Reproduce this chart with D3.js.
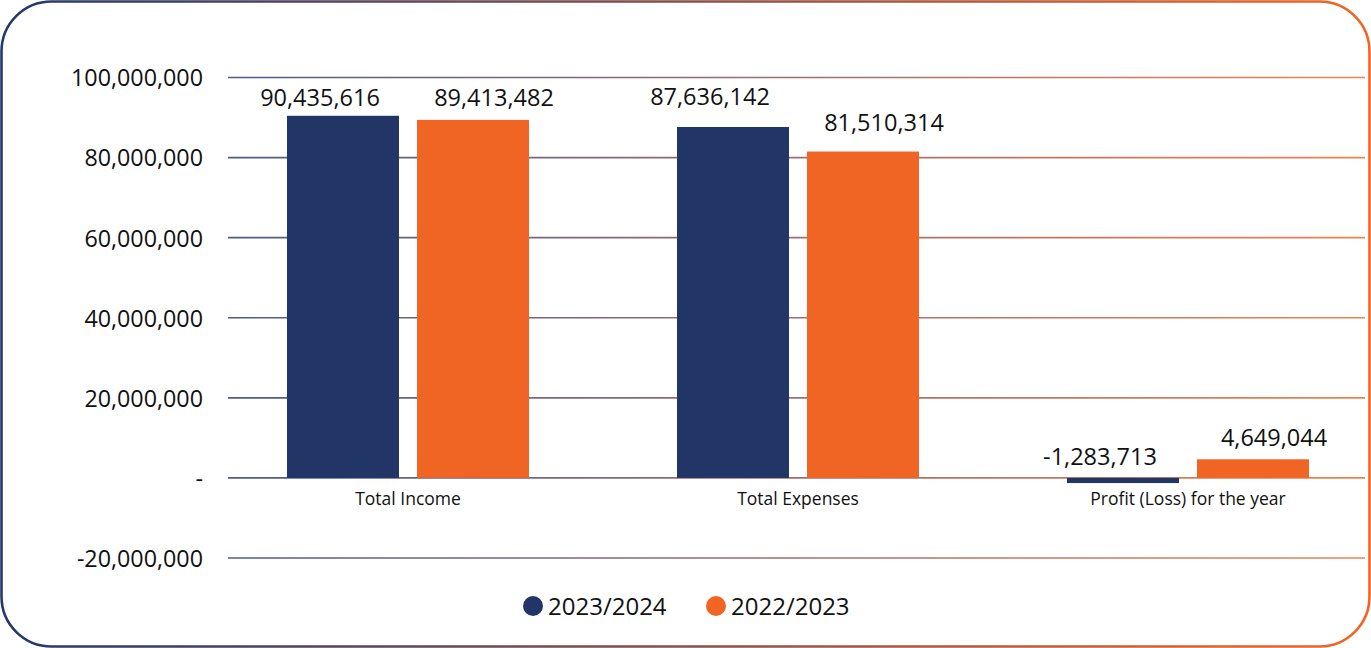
<!DOCTYPE html>
<html>
<head>
<meta charset="utf-8">
<script src="https://cdn.jsdelivr.net/npm/d3@7"></script>
<style>
  html, body { margin: 0; padding: 0; background: #ffffff; }
  svg { display: block; }
  text { font-family: "Open Sans", "Noto Sans", sans-serif; fill: #111; }
</style>
</head>
<body>
<svg id="chart" width="1371" height="648"></svg>
<script>
// Financial summary: income, expenses and result for two financial years
const categories = ["Total Income", "Total Expenses", "Profit (Loss) for the year"];
const seriesNames = ["2023/2024", "2022/2023"];
const values2324 = [90435616, 87636142, -1283713];
const values2223 = [89413482, 81510314, 4649044];
const tickValues = [-20000000, 0, 20000000, 40000000, 60000000, 80000000, 100000000];
const tickLabels = ["-20,000,000", "-", "20,000,000", "40,000,000", "60,000,000", "80,000,000", "100,000,000"];

// label placement: how far each value label sits above its bar (px), per series
const labelLift2324 = [10, 22, 13];
const labelLift2223 = [14, 21, 13];
const labelShift = { "2023/2024": -23, "2022/2023": 21 };

const colors = { "2023/2024": "#213566", "2022/2023": "#f06424" };
const W = 1371, H = 648;

const svg = d3.select("#chart");
const defs = svg.append("defs");

// frame gradient: navy on the left fading to orange on the right
const frameGrad = defs.append("linearGradient")
  .attr("id", "frameGrad").attr("gradientUnits", "userSpaceOnUse")
  .attr("x1", 0).attr("y1", 0).attr("x2", W).attr("y2", 0);
frameGrad.append("stop").attr("offset", "0%").attr("stop-color", "#22386e");
frameGrad.append("stop").attr("offset", "100%").attr("stop-color", "#f26522");

const gridGrad = defs.append("linearGradient")
  .attr("id", "gridGrad").attr("gradientUnits", "userSpaceOnUse")
  .attr("x1", 228).attr("y1", 0).attr("x2", 1365).attr("y2", 0);
gridGrad.append("stop").attr("offset", "0%").attr("stop-color", "#4c5c8c");
gridGrad.append("stop").attr("offset", "100%").attr("stop-color", "#f0824e");

svg.append("rect")
  .attr("x", 1.5).attr("y", 1.5)
  .attr("width", W - 3).attr("height", H - 3)
  .attr("rx", 50).attr("ry", 50)
  .attr("fill", "#fff")
  .attr("stroke", "url(#frameGrad)")
  .attr("stroke-width", 2.6);

// scales
const y = d3.scaleLinear().domain([-20000000, 100000000]).range([558, 77.5]);
const x0 = d3.scaleBand().domain(categories).range([213, 1383]).paddingInner(0).paddingOuter(0);
const x1 = d3.scaleBand().domain(seriesNames).range([74, 316]).paddingInner(0.1385);

// gridlines
svg.append("g").selectAll("line")
  .data(tickValues).join("line")
  .attr("x1", 228).attr("x2", 1365)
  .attr("y1", d => y(d)).attr("y2", d => y(d))
  .attr("stroke", "url(#gridGrad)")
  .attr("stroke-width", 1.6);

// y axis labels
const yAxis = d3.axisLeft(y)
  .tickValues(tickValues)
  .tickSize(0)
  .tickPadding(0)
  .tickFormat((d, i) => tickLabels[i]);
const yg = svg.append("g").attr("transform", "translate(203,0)").call(yAxis);
yg.select(".domain").remove();
yg.selectAll("text")
  .attr("font-size", 23.3)
  .attr("font-family", "'Open Sans', sans-serif")
  .attr("fill", "#111")
  .attr("dy", "0.36em");

// bars
const rows = categories.map((c, i) => ({
  category: c,
  items: [
    { series: seriesNames[0], value: values2324[i], lift: labelLift2324[i] },
    { series: seriesNames[1], value: values2223[i], lift: labelLift2223[i] }
  ]
}));

const groups = svg.append("g").selectAll("g")
  .data(rows).join("g")
  .attr("transform", d => `translate(${x0(d.category)},0)`);

groups.selectAll("rect")
  .data(d => d.items).join("rect")
  .attr("x", d => x1(d.series))
  .attr("width", x1.bandwidth())
  .attr("y", d => y(Math.max(0, d.value)))
  .attr("height", d => Math.abs(y(d.value) - y(0)))
  .attr("fill", d => colors[d.series]);

groups.selectAll("text.val")
  .data(d => d.items).join("text")
  .attr("class", "val")
  .attr("x", d => x1(d.series) + x1.bandwidth() / 2 + labelShift[d.series])
  .attr("y", d => y(Math.max(0, d.value)) - d.lift)
  .attr("text-anchor", "middle")
  .attr("font-size", 23.5)
  .text(d => d3.format(",")(d.value).replace("−", "-"));

// category labels
const xAxis = d3.axisBottom(x0).tickSize(0).tickPadding(0);
const xg = svg.append("g").attr("transform", `translate(0,${y(0)})`).call(xAxis);
xg.select(".domain").remove();
xg.selectAll("text")
  .attr("font-size", 17.5)
  .attr("font-family", "'Open Sans', sans-serif")
  .attr("fill", "#111")
  .attr("y", 27)
  .attr("dy", 0);

// legend
const legendX = [533, 716];
const legend = svg.append("g").selectAll("g")
  .data(seriesNames).join("g")
  .attr("transform", (d, i) => `translate(${legendX[i]},606)`);
legend.append("circle").attr("r", 10).attr("fill", d => colors[d]);
legend.append("text")
  .attr("x", 15).attr("y", 8.5)
  .attr("font-size", 24)
  .text(d => d);
</script>
</body>
</html>
